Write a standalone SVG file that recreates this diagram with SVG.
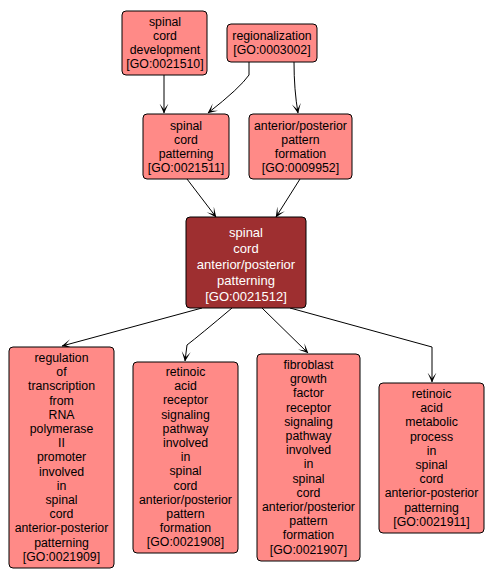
<svg xmlns="http://www.w3.org/2000/svg" width="494" height="580" viewBox="0 0 494 580">
<defs>
<marker id="arr" markerWidth="10" markerHeight="10" refX="9.5" refY="5" orient="auto" markerUnits="userSpaceOnUse">
<path d="M0,0.5 L10,5 L0,9.5 L6,5 Z" fill="#000"/>
</marker>
<style>
.n rect{fill:#ff8a87;stroke:#000;stroke-width:1}
.m rect{fill:#9e2f30;stroke:#000;stroke-width:1}
text{font-family:"Liberation Sans",Arial,sans-serif;font-size:12.3px;text-anchor:middle;fill:#000}
.m text{fill:#fff;font-size:13px}
.e path{fill:none;stroke:#000;stroke-width:1;marker-end:url(#arr)}
</style>
</defs>
<rect width="494" height="580" fill="#fff"/>
<g class="e">
<path d="M164,75 L164,113"/>
<path d="M249,62 L249,75 Q240,88 208,113"/>
<path d="M294,62 Q294,90 298,113"/>
<path d="M187,179 L216,217"/>
<path d="M300,179 L276,217"/>
<path d="M202,308 L62,346"/>
<path d="M232,308 Q200,335 187,345 L185,361"/>
<path d="M262,308 L308,353"/>
<path d="M290,308 L432,347 L432,382"/>
</g>
<g id="GO0021510" class="n"><rect x="122" y="11" width="85" height="64" rx="4"/>
<text x="165" y="26">spinal</text><text x="165" y="40">cord</text><text x="165" y="54">development</text><text x="165" y="68">[GO:0021510]</text></g>
<g id="GO0003002" class="n"><rect x="227" y="24" width="90" height="38" rx="4"/>
<text x="272" y="40">regionalization</text><text x="272" y="54">[GO:0003002]</text></g>
<g id="GO0021511" class="n"><rect x="143" y="114" width="86" height="65" rx="4"/>
<text x="186" y="130">spinal</text><text x="186" y="144">cord</text><text x="186" y="158">patterning</text><text x="186" y="172">[GO:0021511]</text></g>
<g id="GO0009952" class="n"><rect x="249" y="114" width="103" height="65" rx="4"/>
<text x="300.5" y="130">anterior/posterior</text><text x="300.5" y="144">pattern</text><text x="300.5" y="158">formation</text><text x="300.5" y="172">[GO:0009952]</text></g>
<g id="GO0021512" class="m"><rect x="186" y="217" width="120" height="91" rx="4"/>
<text x="246" y="237">spinal</text><text x="246" y="253">cord</text><text x="246" y="269">anterior/posterior</text><text x="246" y="285">patterning</text><text x="246" y="301">[GO:0021512]</text></g>
<g id="GO0021909" class="n"><rect x="9" y="347" width="105" height="221" rx="4"/>
<text x="61.5" y="362">regulation</text><text x="61.5" y="376.2">of</text><text x="61.5" y="390.4">transcription</text><text x="61.5" y="404.6">from</text><text x="61.5" y="418.8">RNA</text><text x="61.5" y="433">polymerase</text><text x="61.5" y="447.2">II</text><text x="61.5" y="461.4">promoter</text><text x="61.5" y="475.6">involved</text><text x="61.5" y="489.8">in</text><text x="61.5" y="504">spinal</text><text x="61.5" y="518.2">cord</text><text x="61.5" y="532.4">anterior-posterior</text><text x="61.5" y="546.6">patterning</text><text x="61.5" y="560.8">[GO:0021909]</text></g>
<g id="GO0021908" class="n"><rect x="133" y="362" width="105" height="191" rx="4"/>
<text x="185.5" y="376">retinoic</text><text x="185.5" y="390.2">acid</text><text x="185.5" y="404.4">receptor</text><text x="185.5" y="418.6">signaling</text><text x="185.5" y="432.8">pathway</text><text x="185.5" y="447">involved</text><text x="185.5" y="461.2">in</text><text x="185.5" y="475.4">spinal</text><text x="185.5" y="489.6">cord</text><text x="185.5" y="503.8">anterior/posterior</text><text x="185.5" y="518">pattern</text><text x="185.5" y="532.2">formation</text><text x="185.5" y="546.4">[GO:0021908]</text></g>
<g id="GO0021907" class="n"><rect x="257" y="354" width="103" height="207" rx="4"/>
<text x="308.5" y="369">fibroblast</text><text x="308.5" y="383.2">growth</text><text x="308.5" y="397.4">factor</text><text x="308.5" y="411.6">receptor</text><text x="308.5" y="425.8">signaling</text><text x="308.5" y="440">pathway</text><text x="308.5" y="454.2">involved</text><text x="308.5" y="468.4">in</text><text x="308.5" y="482.6">spinal</text><text x="308.5" y="496.8">cord</text><text x="308.5" y="511">anterior/posterior</text><text x="308.5" y="525.2">pattern</text><text x="308.5" y="539.4">formation</text><text x="308.5" y="553.6">[GO:0021907]</text></g>
<g id="GO0021911" class="n"><rect x="379" y="383" width="105" height="150" rx="4"/>
<text x="431.5" y="398">retinoic</text><text x="431.5" y="412.2">acid</text><text x="431.5" y="426.4">metabolic</text><text x="431.5" y="440.6">process</text><text x="431.5" y="454.8">in</text><text x="431.5" y="469">spinal</text><text x="431.5" y="483.2">cord</text><text x="431.5" y="497.4">anterior-posterior</text><text x="431.5" y="511.6">patterning</text><text x="431.5" y="525.8">[GO:0021911]</text></g>
</svg>
